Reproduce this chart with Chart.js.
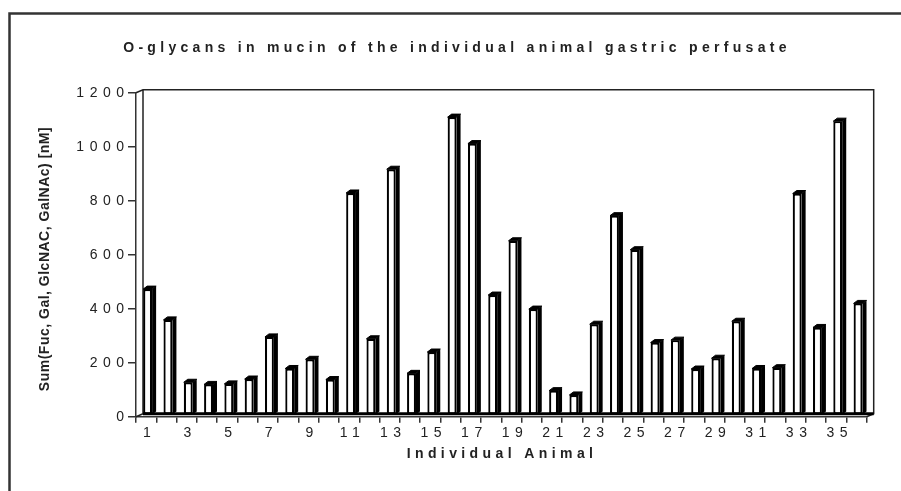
<!DOCTYPE html>
<html>
<head>
<meta charset="utf-8">
<script src="https://cdn.jsdelivr.net/npm/chart.js@4.4.0/dist/chart.umd.min.js"></script>
<style>
  body { margin: 0; background: #fff; }
  canvas { display: block; }
</style>
</head>
<body>
<canvas id="chartBar" width="901" height="491"></canvas>
<script>
// data
const animals = ['1', '2', '3', '4', '5', '6', '7', '8', '9', '10', '11', '12',
  '13', '14', '15', '16', '17', '18', '19', '20', '21', '22', '23', '24',
  '25', '26', '27', '28', '29', '30', '31', '32', '33', '34', '35', '36'];
const oGlycans = [467, 353, 122, 114, 116, 134, 290, 173, 207, 132, 823, 283,
  911, 155, 234, 1104, 1006, 445, 646, 393, 91, 75, 337, 739,
  613, 269, 278, 171, 211, 348, 173, 176, 821, 325, 1089, 414];
const yTicks = [0, 200, 400, 600, 800, 1000, 1200];

const chartTitle = 'O-glycans in mucin of the individual animal gastric perfusate';
const xTitle = 'Individual Animal';
const yTitle = 'Sum(Fuc, Gal, GlcNAC, GalNAc) [nM]';

const FONT = "'Liberation Sans', Arial, sans-serif";
const depthX = 7, depthY = 3; //depth of the 3d box
const barDepth = 4, barRise = 3; //side and top face of each column
const tickSpacing = '5.5px';

//draws the frame, the back wall, bar sides and the titles
const box3d = {
  id: 'box3d',
  beforeUpdate(chart) {
    chart.ctx.letterSpacing = tickSpacing;
  },
  beforeDraw(chart) {
    const ctx = chart.ctx;
    ctx.letterSpacing = tickSpacing;
    ctx.save();
    ctx.strokeStyle = '#333';
    ctx.lineWidth = 2.5;
    ctx.strokeRect(9.5, 13.5, 1000, 1000);
    ctx.restore();
  },
  beforeDatasetsDraw(chart) {
    const ctx = chart.ctx, a = chart.chartArea;
    ctx.save();
    ctx.strokeStyle = '#222';
    ctx.lineWidth = 1.5;
    ctx.beginPath();
    ctx.moveTo(a.left, a.top);
    ctx.lineTo(a.left + depthX, a.top - depthY);
    ctx.lineTo(a.right + depthX, a.top - depthY);
    ctx.lineTo(a.right + depthX, a.bottom - depthY);
    ctx.lineTo(a.right, a.bottom);
    ctx.moveTo(a.left + depthX, a.top - depthY);
    ctx.lineTo(a.left + depthX, a.bottom - depthY);
    ctx.moveTo(a.left, a.bottom);
    ctx.lineTo(a.left + depthX, a.bottom - depthY);
    ctx.stroke();
    ctx.restore();
    //columns stand in the middle of the depth
    ctx.save();
    ctx.translate(1.5, -1.5);
  },
  afterDatasetsDraw(chart) {
    const ctx = chart.ctx, a = chart.chartArea;
    ctx.fillStyle = '#000';
    ctx.strokeStyle = '#000';
    ctx.lineJoin = 'round';
    ctx.lineWidth = 1;
    chart.getDatasetMeta(0).data.forEach(bar => {
      const l = bar.x - bar.width / 2, r = bar.x + bar.width / 2;
      //top face
      ctx.beginPath();
      ctx.moveTo(l, bar.y);
      ctx.lineTo(l + barDepth, bar.y - barRise);
      ctx.lineTo(r + barDepth, bar.y - barRise);
      ctx.lineTo(r, bar.y);
      ctx.closePath();
      ctx.fill();
      ctx.stroke();
      //side face
      ctx.beginPath();
      ctx.moveTo(r, bar.y);
      ctx.lineTo(r + barDepth, bar.y - barRise);
      ctx.lineTo(r + barDepth, bar.base - barRise);
      ctx.lineTo(r, bar.base);
      ctx.closePath();
      ctx.fill();
    });
    ctx.restore();
    //floor
    ctx.save();
    ctx.strokeStyle = '#000';
    ctx.lineWidth = 3;
    ctx.beginPath();
    ctx.moveTo(a.left + depthX, a.bottom - depthY);
    ctx.lineTo(a.right + depthX, a.bottom - depthY);
    ctx.stroke();
    ctx.restore();
  },
  afterDraw(chart) {
    const ctx = chart.ctx;
    ctx.save();
    ctx.fillStyle = '#222';
    ctx.textAlign = 'center';
    ctx.textBaseline = 'middle';
    ctx.letterSpacing = '4.3px';
    ctx.font = 'bold 14px ' + FONT;
    ctx.fillText(chartTitle, 457, 48);
    ctx.letterSpacing = '4.4px';
    ctx.fillText(xTitle, 502, 454);
    ctx.letterSpacing = '0.5px';
    ctx.font = 'bold 14px ' + FONT;
    ctx.translate(45, 259);
    ctx.rotate(-Math.PI / 2);
    ctx.fillText(yTitle, 0, 0);
    ctx.restore();
  }
};

const dataBarChart = {
  labels: animals,
  datasets: [
  {
    label: 'O-glycans',
    data: oGlycans,
    backgroundColor: '#fff',
    borderColor: '#000',
    borderWidth: 2.2,
    borderSkipped: false,
    barPercentage: 0.44,
    categoryPercentage: 1,
  },
  ],
};

const configBarChart = {
  type: 'bar',
  data: dataBarChart,
  plugins: [box3d],
  options: {
    responsive: false,
    animation: false,
    devicePixelRatio: 1,
    layout: { padding: { top: 92.7, right: 34.3, left: 0, bottom: 0 } },
    plugins: {
      legend: { display: false },
      title: { display: false },
      tooltip: { enabled: false },
    },
    scales: {
      x: {
        offset: true,
        grid: { display: true, offset: true, drawOnChartArea: false, tickLength: 6, color: '#333', lineWidth: 1.5 },
        border: { display: true, color: '#333', width: 1.5 },
        ticks: {
          autoSkip: false,
          maxRotation: 0,
          padding: 2,
          labelOffset: 3.5,
          color: '#222',
          font: { family: FONT, size: 14 },
          callback: (v, i) => (i % 2 === 0 ? animals[i] : ''),
        },
        afterFit: s => { s.height = 74.3; },
      },
      y: {
        min: yTicks[0],
        max: yTicks[yTicks.length - 1],
        grid: { display: true, drawOnChartArea: false, tickLength: 8, color: '#333', lineWidth: 1.5 },
        border: { display: true, color: '#333', width: 1.5 },
        ticks: {
          stepSize: yTicks[1] - yTicks[0],
          padding: -1.5,
          color: '#222',
          font: { family: FONT, size: 14 },
          callback: v => String(v),
        },
        afterFit: s => { s.width = 136; },
      },
    },
  },
};

var chartBar = new Chart(
  document.getElementById('chartBar'),
  configBarChart
);
</script>
</body>
</html>
